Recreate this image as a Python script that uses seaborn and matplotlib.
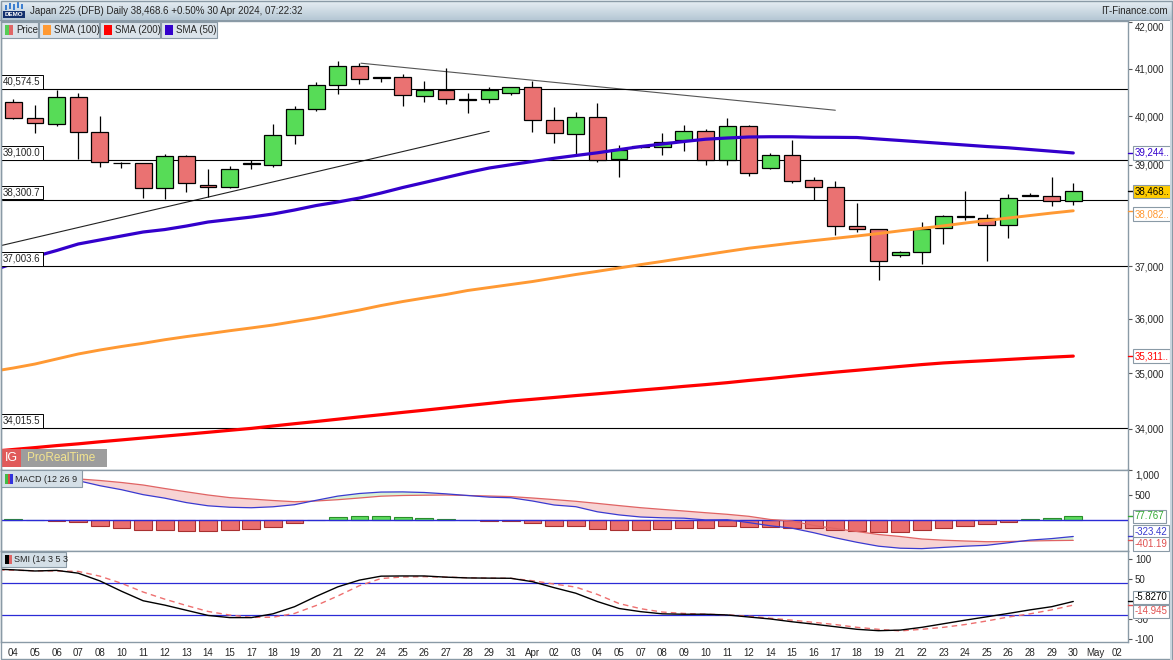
import matplotlib
matplotlib.use("Agg")
import matplotlib.pyplot as plt
import numpy as np
import seaborn as sns
from matplotlib.colors import LinearSegmentedColormap
from matplotlib.patches import Rectangle
from matplotlib.ticker import NullLocator

sns.set_style("white")
plt.rcParams["font.family"] = ["Liberation Sans", "DejaVu Sans"]
plt.rcParams["font.size"] = 7

W, H = 1173, 660

# ---- data ----
day_labels = ["04", "05", "06", "07", "08", "10", "11", "12", "13", "14", "15", "17", "18",
              "19", "20", "21", "22", "24", "25", "26", "27", "28", "29", "31", "Apr", "02",
              "03", "04", "05", "07", "08", "09", "10", "11", "12", "14", "15", "16", "17",
              "18", "19", "21", "22", "23", "24", "25", "26", "28", "29", "30", "May", "02"]

opens = [40290, 39957, 39832, 40395, 39667, 39040, 39033, 38529, 39175, 38588,
         38548, 39030, 38993, 39605, 40144, 40648, 41058, 40820, 40818, 40416,
         40549, 40345, 40353, 40480, 40618, 39915, 39626, 39978, 39114, 39392,
         39359, 39509, 39693, 39100, 39791, 38932, 39202, 38696, 38548, 37776,
         37717, 37223, 37281, 37737, 37960, 37946, 37808, 38385, 38370, 38270]
highs = [40353, 40234, 40549, 40492, 40005, 39066, 39033, 39216, 39196, 38917,
         38985, 39100, 39839, 40213, 40724, 41165, 41115, 40830, 40888, 40738,
         41010, 40480, 40607, 40618, 40745, 40193, 40097, 40281, 39407, 39400,
         39660, 39817, 39734, 39960, 39817, 39235, 39510, 38763, 38675, 38242,
         37717, 37300, 37866, 38000, 38481, 38023, 38415, 38430, 38763, 38645]
lows = [39950, 39659, 39803, 39120, 38964, 38932, 38329, 38309, 38461, 38348,
        38529, 38911, 38964, 39420, 40115, 40471, 40675, 40720, 40219, 40295,
        40260, 40066, 40281, 40452, 39680, 39441, 39222, 39066, 38763, 39350,
        39202, 39289, 38999, 38999, 38783, 38925, 38628, 38293, 37605, 37657,
        36736, 37185, 37048, 37424, 37906, 37106, 37552, 38370, 38173, 38187]
closes = [39957, 39853, 40395, 39667, 39053, 39030, 38529, 39187, 38629, 38548,
          38911, 39025, 39605, 40144, 40648, 41058, 40775, 40805, 40437, 40549,
          40366, 40340, 40543, 40618, 39915, 39647, 39978, 39100, 39304, 39359,
          39467, 39693, 39100, 39791, 38831, 39195, 38682, 38548, 37776, 37717,
          37094, 37281, 37717, 37972, 37965, 37808, 38328, 38395, 38270, 38468.6]

# indicator series start one session earlier (off the left edge)
sma50 = [36918, 37052, 37187, 37303, 37430, 37508, 37586, 37664, 37712, 37781, 37860,
         37909, 37958, 38018, 38097, 38186, 38256, 38335, 38435, 38545, 38645, 38746,
         38847, 38938, 39005, 39070, 39135, 39192, 39247, 39312, 39375, 39427, 39478,
         39525, 39550, 39571, 39576, 39575, 39566, 39564, 39560, 39529, 39499, 39468,
         39437, 39406, 39375, 39349, 39314, 39279, 39244]
sma100 = [35029, 35093, 35166, 35258, 35350, 35423, 35488, 35547, 35613, 35671, 35724,
          35780, 35832, 35886, 35952, 36017, 36092, 36167, 36252, 36327, 36394, 36460,
          36536, 36593, 36650, 36707, 36774, 36841, 36902, 36966, 37031, 37093, 37158,
          37222, 37286, 37348, 37398, 37449, 37496, 37541, 37586, 37634, 37687, 37736,
          37785, 37840, 37889, 37939, 37988, 38037, 38082]
sma200 = [33605, 33638, 33671, 33706, 33737, 33773, 33806, 33840, 33873, 33906, 33940,
          33975, 34009, 34051, 34092, 34131, 34172, 34213, 34252, 34293, 34332, 34373,
          34414, 34454, 34495, 34527, 34560, 34594, 34626, 34659, 34693, 34725, 34760,
          34792, 34827, 34867, 34903, 34943, 34981, 35018, 35052, 35087, 35122, 35156,
          35186, 35208, 35228, 35250, 35272, 35292, 35311]

macd = [890, 884, 852, 835, 792, 692, 612, 513, 443, 354, 290, 261, 251, 270, 312, 400,
        484, 536, 565, 568, 556, 529, 496, 463, 451, 386, 306, 272, 170, 108, 66, 50, 42,
        8, 12, -46, -110, -158, -248, -350, -440, -518, -558, -567, -542, -518, -500,
        -449, -396, -366, -323.42]
macd_signal = [870, 866, 852, 840, 828, 796, 756, 706, 636, 570, 506, 454, 426, 396, 372,
               386, 412, 446, 482, 496, 502, 506, 496, 486, 474, 446, 414, 380, 338, 294,
               252, 218, 186, 152, 120, 80, 16, -14, -104, -164, -224, -284, -324, -374,
               -398, -414, -428, -424, -414, -406, -401.19]
macd_hist = [18, 0, -5, -36, -104, -144, -193, -193, -216, -216, -193, -175, -126, -60,
             14, 72, 90, 83, 72, 54, 23, 0, -23, -23, -60, -108, -108, -168, -186, -186,
             -168, -144, -144, -108, -126, -126, -144, -144, -186, -216, -234, -234, -193,
             -144, -104, -72, -25, 18, 40, 77.767]

smi = [76, 74, 71, 72.5, 65.5, 46, 20, -4, -15, -28, -41, -46.5, -46.5, -37, -19, 7, 31,
       48, 58, 58.5, 58.5, 55.5, 53.5, 53, 52.6, 44, 29, 15, -6, -23.5, -31.5, -37, -38,
       -38, -39.8, -45, -50, -57, -63, -69.5, -76, -79.5, -78, -71, -62, -53, -44.5, -36,
       -27, -19, -5.827]
smi_signal = [74, 73, 71.5, 71, 70, 58, 40, 18, 0, -16, -31, -40, -46, -45.5, -36, -16, 8,
              34, 52, 56, 56.7, 55.5, 54, 53, 52.6, 46.5, 38, 30.5, 12, -11, -24, -32.5,
              -36, -38, -39.5, -43, -48, -53, -58.5, -64, -71, -76, -80, -76, -71, -64,
              -55, -45, -37, -27, -14.945]

h_levels = [40574.5, 39100.0, 38300.7, 37003.6, 34015.5]
price_ticks = [34000, 35000, 36000, 37000, 39000, 40000, 41000, 42000]
trend_up_x, trend_up_y = [-0.6, 22.0], [37396, 39688]
trend_down_x, trend_down_y = [16.07, 38.0], [41118, 40125]

bar_x = np.arange(len(opens))
line_x = np.arange(-1, len(opens))

RED, GREEN = "#ea7272", "#57dc57"
BORDER = "#8a9aa6"

fig = plt.figure(figsize=(W / 100, H / 100), dpi=100, facecolor="white")
ax = fig.add_axes([1 / W, 1 - 469.5 / H, 1127 / W, 448.5 / H])
ax_macd = fig.add_axes([1 / W, 1 - 551 / H, 1127 / W, 81.5 / H], sharex=ax)
ax_smi = fig.add_axes([1 / W, 1 - 642 / H, 1127 / W, 91 / H], sharex=ax)

# ---- price panel ----
ax.set_yscale("log")
o, c = np.array(opens), np.array(closes)
up = c >= o
ax.vlines(bar_x, lows, highs, color="black", lw=0.9, zorder=3)
ax.bar(bar_x, np.maximum(np.abs(c - o), 12), bottom=np.minimum(o, c), width=0.78,
       color=np.where(up, GREEN, RED), edgecolor="black", linewidth=0.9, zorder=4)

sns.lineplot(x=line_x, y=sma100, ax=ax, color="#ff9933", lw=2.1, zorder=5)
sns.lineplot(x=line_x, y=sma200, ax=ax, color="#ff0000", lw=2.3, zorder=5)
sns.lineplot(x=line_x, y=sma50, ax=ax, color="#3300cc", lw=2.3, zorder=5)
ax.plot(trend_up_x, trend_up_y, color="#222222", lw=0.8, zorder=2)
ax.plot(trend_down_x, trend_down_y, color="#555555", lw=0.8, zorder=2)

for lvl in h_levels:
    ax.axhline(lvl, color="black", lw=0.8, zorder=2)
    ax.annotate(f"{lvl:,.1f}", xy=(0, lvl), xycoords=ax.get_yaxis_transform(),
                xytext=(1.5, 1.6), textcoords="offset points", va="bottom", ha="left",
                fontsize=7, zorder=6,
                bbox=dict(boxstyle="square,pad=0.2", fc="white", ec="black", lw=0.7))

ax.set_ylim(33290, 42030)
ax.set_xlim(-0.57, 51.53)
ax.set_yticks(price_ticks, labels=[f"{t:,}" for t in price_ticks])
ax.yaxis.set_minor_locator(NullLocator())

# ---- MACD panel ----
mx = np.array(macd)
ms = np.array(macd_signal)
ax_macd.fill_between(line_x, mx, ms, where=mx >= ms, interpolate=True, color="#d6f2d6", lw=0)
ax_macd.fill_between(line_x, mx, ms, where=mx < ms, interpolate=True, color="#f7d3d3", lw=0)
hist = np.array(macd_hist)
ax_macd.bar(bar_x, hist, width=0.82, color=np.where(hist >= 0, "#5cdc5c", "#ea6e6e"),
            edgecolor=np.where(hist >= 0, "#2a8f2a", "#a83030"), linewidth=0.8, zorder=2)
ax_macd.axhline(0, color="#2b2bd6", lw=1, zorder=3)
sns.lineplot(x=line_x, y=macd_signal, ax=ax_macd, color="#e06464", lw=0.9, zorder=4)
sns.lineplot(x=line_x, y=macd, ax=ax_macd, color="#3a3ad0", lw=0.9, zorder=4)
ax_macd.set_ylim(-614, 1016)
ax_macd.set_yticks([500, 1000], labels=["500", "1,000"])

# ---- SMI panel ----
ax_smi.axhline(40, color="#2b2bd6", lw=0.9)
ax_smi.axhline(-40, color="#2b2bd6", lw=0.9)
sns.lineplot(x=line_x, y=smi_signal, ax=ax_smi, color="#ee7070", lw=1.0, dashes=(4, 3),
             zorder=3)
sns.lineplot(x=line_x, y=smi, ax=ax_smi, color="black", lw=1.0, zorder=4)
ax_smi.set_ylim(-108, 121.4)
ax_smi.set_yticks([-100, -50, 50, 100], labels=["-100", "-50", "50", "100"])

ax_smi.set_xticks(np.arange(len(day_labels)), labels=day_labels)
ax_smi.set_xlim(-0.57, 51.53)

for a in (ax, ax_macd, ax_smi):
    a.yaxis.tick_right()
    a.tick_params(axis="y", which="both", right=True, left=False, labelright=True,
                  labelleft=False, length=3, width=0.8, color="#555555", labelsize=7, pad=2)
    a.set_xlabel("")
    a.set_ylabel("")
    for s in a.spines.values():
        s.set_edgecolor(BORDER)
        s.set_linewidth(1)
for a in (ax, ax_macd):
    a.tick_params(axis="x", bottom=False, labelbottom=False)
ax_smi.tick_params(axis="x", bottom=False, labelbottom=True, labelsize=7, pad=1)

# top tick labels hang below their ticks
for a, top in ((ax, 42000), (ax_macd, 1000)):
    for t in a.yaxis.get_major_ticks():
        if t.get_loc() == top:
            t.label2.set_va("top")


def value_tag(a, y, text, color, fc="white", dy=0):
    tr = a.get_yaxis_transform()
    a.plot([1.0, 1.004], [y, y], transform=tr, color=color, lw=1, clip_on=False, zorder=9)
    a.annotate(text, xy=(1.0, y), xycoords=tr, xytext=(4.5, dy), textcoords="offset points",
               va="center", ha="left", color=color, fontsize=7, annotation_clip=False,
               zorder=10, bbox=dict(boxstyle="square,pad=0.18", fc=fc, ec=BORDER, lw=0.8))


value_tag(ax, sma50[-1], "39,244..", "#3300cc")
value_tag(ax, closes[-1], "38,468..", "black", fc="#ffcc00")
value_tag(ax, sma100[-1], "38,082..", "#ff9933", dy=-2.5)
value_tag(ax, sma200[-1], "35,311..", "#ff0000")
value_tag(ax_macd, macd_hist[-1], "77.767", "#33aa33")
value_tag(ax_macd, macd[-1], "-323.42", "#3a3ad0", dy=3.2)
value_tag(ax_macd, macd_signal[-1], "-401.19", "#e05050", dy=-2.6)
value_tag(ax_smi, smi[-1], "-5.8270", "black", dy=3)
value_tag(ax_smi, smi_signal[-1], "-14.945", "#e05050", dy=-4.5)


# ---- decorations in pixel coordinates ----
def fig_rect(x0, y0, x1, y1, **kw):
    fig.add_artist(Rectangle((x0 / W, 1 - y1 / H), (x1 - x0) / W, (y1 - y0) / H,
                             transform=fig.transFigure, **kw))


def fig_text(x, y, s, **kw):
    fig.text(x / W, 1 - y / H, s, va="center", **kw)


head = fig.add_axes([0, 1 - 20 / H, 1, 20 / H])
head.imshow(np.linspace(0, 1, 20)[:, None], aspect="auto", extent=[0, 1, 0, 1],
            cmap=LinearSegmentedColormap.from_list("hd", ["#e8eff4", "#b6c8d5"]))
head.axis("off")
fig_rect(0, 19.5, W, 20.5, fc=BORDER, ec="none")
fig_text(30, 10.5, "Japan 225 (DFB) Daily 38,468.6 +0.50% 30 Apr 2024, 07:22:32", fontsize=7)
fig_text(1168, 10.5, "IT-Finance.com", fontsize=7, ha="right")
# demo badge
for bx, by0, by1 in ((5, 5, 10), (9, 3, 9), (13, 4, 10), (17, 2, 8), (21, 4, 9)):
    fig_rect(bx, by0, bx + 2, by1, fc="#3d7fd0", ec="none")
fig_rect(3, 11, 25, 18, fc="#12306e", ec="none")
fig_text(14, 14.6, "DEMO", fontsize=4.5, color="white", ha="center", weight="bold")

# legend buttons
for x0, x1, label, cols in ((1, 38, "Price", ("#55cc55", "#e06666")),
                            (39, 99, "SMA (100)", ("#ff9933",)),
                            (100, 160, "SMA (200)", ("#ff0000",)),
                            (161, 217, "SMA (50)", ("#3300cc",))):
    fig_rect(x0, 22, x1, 38, fc="#dbe3ea", ec=BORDER, lw=0.8)
    sw = 8 / len(cols)
    for k, col in enumerate(cols):
        fig_rect(x0 + 4 + k * sw, 25, x0 + 4 + (k + 1) * sw, 35, fc=col, ec="none")
    fig_text(x0 + 15, 30, label, fontsize=7)

# broker logo
fig_rect(2, 449, 107, 467, fc="#9d9d9d", ec="none")
fig_rect(2, 449, 21, 467, fc="#e05a5a", ec="none")
fig_text(11.5, 458, "IG", fontsize=9, color="white", ha="center")
fig_text(27, 458, "ProRealTime", fontsize=8.5, color="#f3e48f")

# indicator captions
fig_rect(1, 470, 82, 487, fc="#d4dfe7", ec=BORDER, lw=0.8)
for k, col in enumerate(("#44bb44", "#dd4444", "#3333dd")):
    fig_rect(5 + 2.5 * k, 474, 7.5 + 2.5 * k, 484, fc=col, ec="none")
fig_text(15, 479, "MACD (12 26 9", fontsize=6.5)
fig_rect(1, 552, 66, 567, fc="#d4dfe7", ec=BORDER, lw=0.8)
fig_rect(5, 555, 8.5, 564, fc="black", ec="none")
fig_rect(8.5, 555, 12, 564, fc="#e06666", ec="none")
fig_text(14, 559.5, "SMI (14 3 5 3", fontsize=6.5)

# outer frame
fig_rect(0.5, 0.5, W - 1, H - 1, fc="none", ec=BORDER, lw=1)
fig_rect(1170, 20, 1172, H, fc="#c9d5de", ec="none")

fig.savefig("out.png", dpi=100, facecolor="white")
